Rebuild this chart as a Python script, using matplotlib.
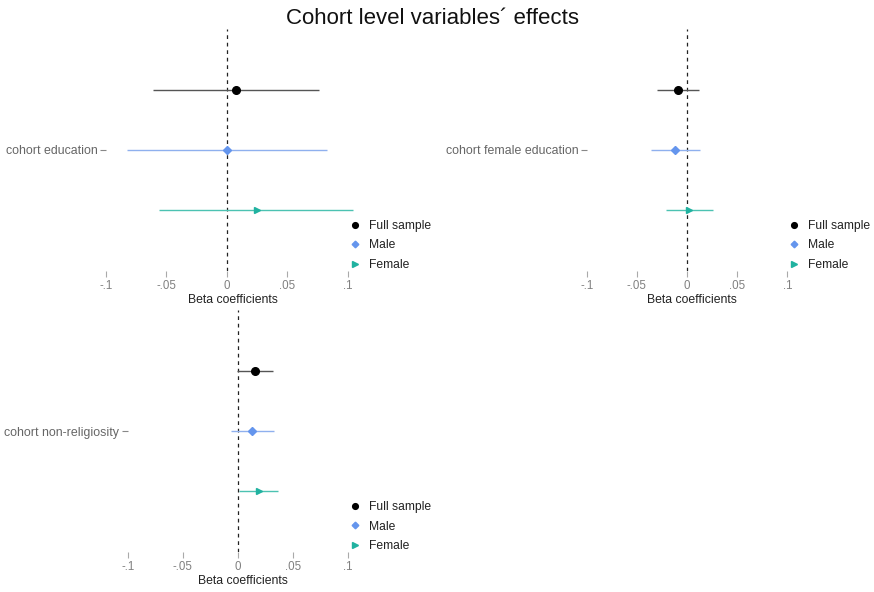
import matplotlib
matplotlib.use("Agg")
import matplotlib.pyplot as plt
from matplotlib.lines import Line2D

plt.rcParams['font.family'] = ['Liberation Sans', 'DejaVu Sans']

# ---- data ----
variables = ["cohort education", "cohort female education", "cohort non-religiosity"]
groups = ["Full sample", "Male", "Female"]

full_est = [0.0080, -0.0088, 0.0155]
full_lo = [-0.0610, -0.0297, -0.0009]
full_hi = [0.0764, 0.0117, 0.0318]

male_est = [0.0000, -0.0115, 0.0133]
male_lo = [-0.0827, -0.0354, -0.0061]
male_hi = [0.0827, 0.0125, 0.0330]

female_est = [0.0248, 0.0018, 0.0194]
female_lo = [-0.0558, -0.0214, 0.0015]
female_hi = [0.1048, 0.0261, 0.0369]

xtick_vals = [-0.1, -0.05, 0, 0.05, 0.1]
xtick_labels = ["-.1", "-.05", "0", ".05", ".1"]

# ---- styling ----
point_colors = ["#000000", "#6495ED", "#20B2A0"]
line_colors = ["#555555", "#8FB0EE", "#4CC2B2"]
markers = ["o", "D", ">"]
msizes = [5.5, 4.5, 5.0]
dodge = [0.3, 0.0, -0.3]

W, H = 874, 592
fig = plt.figure(figsize=(W / 100, H / 100), dpi=100)

# panel layout in pixels: zero position, px per unit, vertical center, legend marker x, legend center y
layout = [
    dict(zero=226.7, scale=1208.5, yc=150.0, legx=355, legy=245.5),
    dict(zero=687.0, scale=1003.0, yc=150.0, legx=794, legy=245.5),
    dict(zero=237.7, scale=1100.0, yc=431.0, legx=355, legy=526.5),
]
xlim = (-0.1, 0.11)
ylim = (0.4, 1.6)
px_per_y = 201.0

series = [
    (full_est, full_lo, full_hi),
    (male_est, male_lo, male_hi),
    (female_est, female_lo, female_hi),
]

for i, var in enumerate(variables):
    lay = layout[i]
    left = lay["zero"] + xlim[0] * lay["scale"]
    right = lay["zero"] + xlim[1] * lay["scale"]
    top = lay["yc"] - (ylim[1] - 1) * px_per_y
    bottom = lay["yc"] + (1 - ylim[0]) * px_per_y
    ax = fig.add_axes([left / W, 1 - bottom / H, (right - left) / W, (bottom - top) / H])
    ax.set_xlim(*xlim)
    ax.set_ylim(*ylim)
    for s in ax.spines.values():
        s.set_visible(False)
    ax.axvline(0, color="#222222", lw=0.9, ls=(0, (3, 3)), zorder=1)
    handles = []
    for g, (est, lo, hi) in enumerate(series):
        y = 1 + dodge[g]
        ax.hlines(y, lo[i], hi[i], color=line_colors[g], lw=1.0, zorder=2, clip_on=False)
        ax.plot([est[i]], [y], marker=markers[g], ms=msizes[g], color=point_colors[g],
                ls="none", zorder=3, clip_on=False)
        handles.append(Line2D([], [], marker=markers[g], ms=msizes[g] * 0.75,
                              color=point_colors[g], ls="none", label=groups[g]))
    ax.set_yticks([1])
    ax.set_yticklabels([var])
    ax.set_xticks(xtick_vals)
    ax.set_xticklabels(xtick_labels)
    ax.tick_params(axis="y", direction="out", length=4, width=0.8, color="#888888",
                   labelsize=8.9, labelcolor="#666666", pad=2)
    ax.tick_params(axis="x", direction="out", length=4, width=0.8, color="#aaaaaa",
                   labelsize=8.3, labelcolor="#808080", pad=3)
    ax.set_xlabel("Beta coefficients", fontsize=8.8, color="#222222", labelpad=1)
    fs = 8.7
    handle_len = 0.8
    leg_left = lay["legx"] - handle_len * fs * 100 / 72 / 2
    leg = ax.legend(handles=handles, loc="center left",
                    bbox_to_anchor=(leg_left / W, 1 - lay["legy"] / H),
                    bbox_transform=fig.transFigure, frameon=False, fontsize=fs,
                    handlelength=handle_len, handletextpad=0.75, labelspacing=0.62,
                    borderpad=0, borderaxespad=0)
    for t in leg.get_texts():
        t.set_color("#222222")

fig.text(433 / W, 1 - 18 / H, "Cohort level variables\u00b4 effects", ha="center", va="center",
         fontsize=16, color="#111111")

fig.savefig("out.png", dpi=100)
